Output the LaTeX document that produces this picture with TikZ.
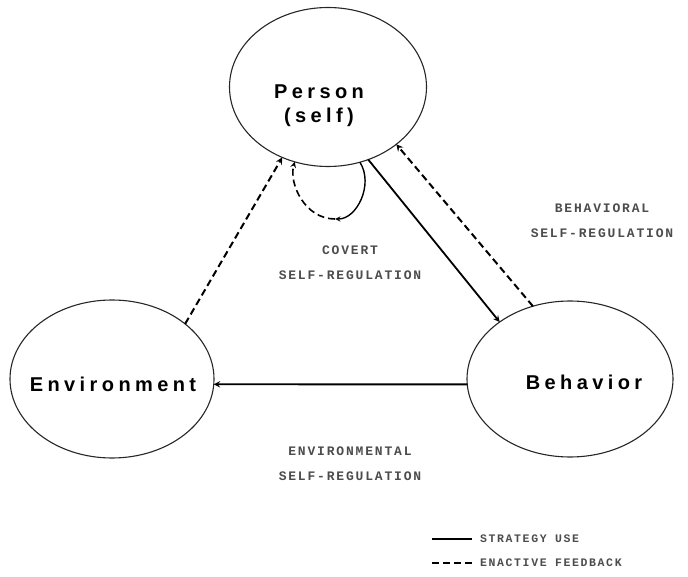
\documentclass[tikz,border=0pt]{standalone}
\usepackage{fontspec}
\usetikzlibrary{shapes.geometric}
\newfontfamily\srlnamefont[LetterSpace=22]{Liberation Sans}
\newfontfamily\srlcaptionfont[LetterSpace=14]{Liberation Mono}
\tikzset{
 srl actor/.style={ellipse,draw=black!85,line width=1.1pt,minimum width=204pt,
                   minimum height=158pt,inner sep=0pt,outer sep=0pt},
 srl name/.style={font=\srlnamefont\bfseries\fontsize{20}{24}\selectfont,
                  align=center,inner sep=0pt},
 srl use/.style={->,line width=1.8pt},
 srl feedback/.style={->,line width=2pt,dash pattern=on 7pt off 4pt},
 srl caption/.style={font=\srlcaptionfont\bfseries\fontsize{13}{25}\selectfont,
                     align=center,text=black!70},
 srl key/.style={font=\srlcaptionfont\bfseries\fontsize{11.5}{13}\selectfont,
                 anchor=west,inner sep=0pt,text=black!70}
}
\begin{document}
\begin{tikzpicture}[x=1pt,y=-1pt,>=stealth]
 \useasboundingbox (0,0) rectangle (688,577);
 \node[srl actor,minimum width=197pt,minimum height=159pt] (person) at (328,87) {};
 \node[srl actor] (environment) at (112,379) {};
 \node[srl actor,minimum width=206pt,minimum height=156pt] (behavior) at (570,379) {};
 \node[srl name] (person name) at (319,106) {Person\\(self)};
 \node[srl name] (environment name) at (113,384) {Environment};
 \node[srl name] (behavior name) at (584,382) {Behavior};

 % Triadic links between the three actors.
 \draw[srl feedback] (environment.37) -- (person.-123);
 \draw[srl use] (person.-61) -- (behavior.141);
 \draw[srl feedback] (behavior.117) -- (person.-40);
 \draw[srl use] (behavior.183) -- (environment.-3);

 % Covert loop under the person.
 \coordinate (loop turn) at (335,219);
 \draw[srl use,line width=1.4pt] (person.-67) .. controls +(14,22) and +(22,0) .. (loop turn);
 \draw[srl feedback,line width=1.6pt] (loop turn) .. controls +(-30,0) and +(-6,22) .. (person.-114);

 \node[srl caption] (covert) at (350,263) {COVERT\\SELF-REGULATION};
 \node[srl caption] (behavioral) at (602,221) {BEHAVIORAL\\SELF-REGULATION};
 \node[srl caption] (environmental) at (350,464) {ENVIRONMENTAL\\SELF-REGULATION};

 % Key.
 \coordinate (use from) at (432,539);
 \coordinate (use to) at (472,539);
 \coordinate (feedback from) at (432,563);
 \coordinate (feedback to) at (472,563);
 \draw[srl use,-] (use from) -- (use to);
 \draw[srl feedback,-,line width=1.4pt] (feedback from) -- (feedback to);
 \node[srl key] (use key) at (480,539) {STRATEGY USE};
 \node[srl key] (feedback key) at (480,563) {ENACTIVE FEEDBACK};
\end{tikzpicture}
\end{document}
